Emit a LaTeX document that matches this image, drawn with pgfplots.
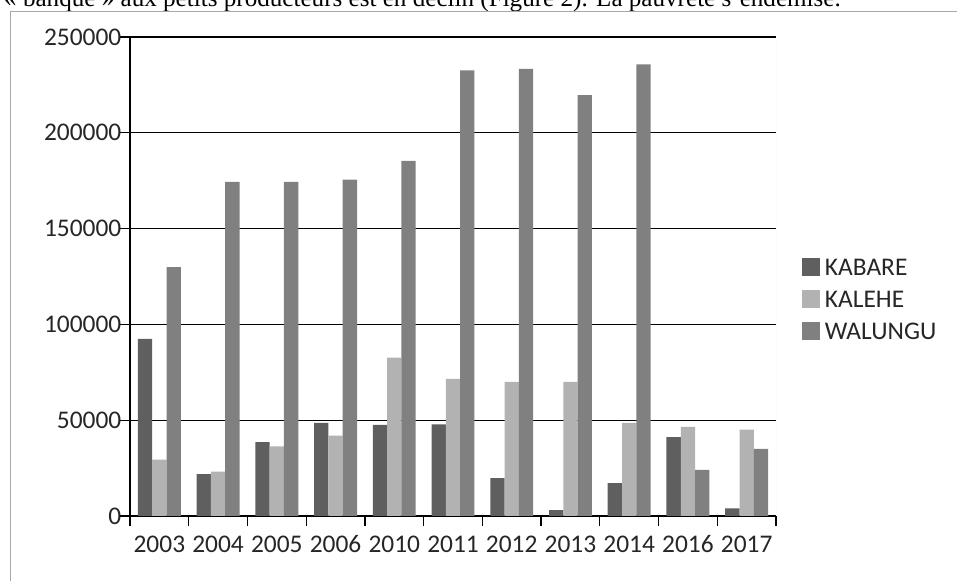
\documentclass[border=0pt]{standalone}
\usepackage{fontspec}
\setmainfont{Carlito}
\newfontfamily\seriffont{Liberation Serif}
\usepackage{pgfplots}
\pgfplotsset{compat=1.18}
\definecolor{cKabare}{HTML}{5F5F5F}
\definecolor{cKalehe}{HTML}{B2B2B2}
\definecolor{cWalungu}{HTML}{808080}
\definecolor{txt}{HTML}{262626}
\definecolor{frame}{HTML}{A8A8A8}
\begin{document}
\begin{tikzpicture}[x=1bp,y=1bp]
\useasboundingbox (0,0) rectangle (957,581);
\begin{scope}
\clip (0,0) rectangle (957,581);
\node[anchor=base west, inner sep=0pt, font=\seriffont\fontsize{25.2}{30}\selectfont] at (4,574.5) {« banque » aux petits producteurs est en déclin (Figure 2). La pauvreté s’endémise.};
\end{scope}
\draw[frame, line width=0.9bp] (10,0) -- (10,569.3) -- (957,569.3);
\begin{axis}[
  at={(130bp,65bp)}, anchor=south west,
  scale only axis, width=646bp, height=479bp,
  xmin=-0.5, xmax=10.5, ymin=0, ymax=250000,
  axis x line*=bottom, axis y line*=left,
  axis line style={black, line width=1.3bp},
  ybar=0pt, bar width=14.3bp,
  ytick={0,50000,100000,150000,200000,250000},
  scaled y ticks=false,
  yticklabel style={/pgf/number format/fixed, /pgf/number format/precision=0,
    /pgf/number format/1000 sep={}, /pgf/number format/assume math mode=true,
    inner sep=0pt, xshift=1.5bp, text=txt},
  ymajorgrids, grid style={black, line width=1.3bp},
  tick align=outside, major tick length=10bp,
  tick style={black, line width=1.3bp},
  xtick={-0.5,0.5,...,10.5}, xticklabels={},
  extra x ticks={0,1,2,3,4,5,6,7,8,9,10},
  extra x tick labels={2003,2004,2005,2006,2010,2011,2012,2013,2014,2016,2017},
  extra x tick style={major tick length=0pt, tick style={draw=none}},
  xticklabel style={inner sep=0pt, text=txt, anchor=north, text height=17bp, text depth=0pt, yshift=-19bp},
  font=\fontsize{25.5}{30}\selectfont,
  tick label style={font=\fontsize{25.5}{30}\selectfont},
  legend style={at={(1.0402,0.538)}, anchor=north west, draw=none, fill=none,
    inner sep=0pt, outer sep=0pt, row sep=13.7bp, column sep=5bp,
    nodes={inner sep=0pt, outer sep=0pt, text height=17bp, text depth=0pt, text=txt},
    font=\fontsize{25.5}{30}\selectfont},
  legend cell align=left,
  legend image code/.code={\fill[#1] (0bp,-9bp) rectangle (18bp,9bp);},
]
\addplot[fill=cKabare, draw=none] coordinates {(0,92400) (1,21900) (2,38500) (3,48600) (4,47600) (5,47800) (6,19800) (7,3100) (8,17100) (9,41100) (10,4000)};
\addplot[fill=cKalehe, draw=none] coordinates {(0,29400) (1,23200) (2,36400) (3,42000) (4,82600) (5,71600) (6,70000) (7,70000) (8,48600) (9,46500) (10,45100)};
\addplot[fill=cWalungu, draw=none] coordinates {(0,129900) (1,174400) (2,174400) (3,175600) (4,185300) (5,232600) (6,233300) (7,219700) (8,235700) (9,24100) (10,35000)};
\legend{KABARE,KALEHE,WALUNGU}
\draw[black!12, line width=0.8bp] (rel axis cs:1,0) -- (rel axis cs:1,1);
\end{axis}
\end{tikzpicture}
\end{document}
